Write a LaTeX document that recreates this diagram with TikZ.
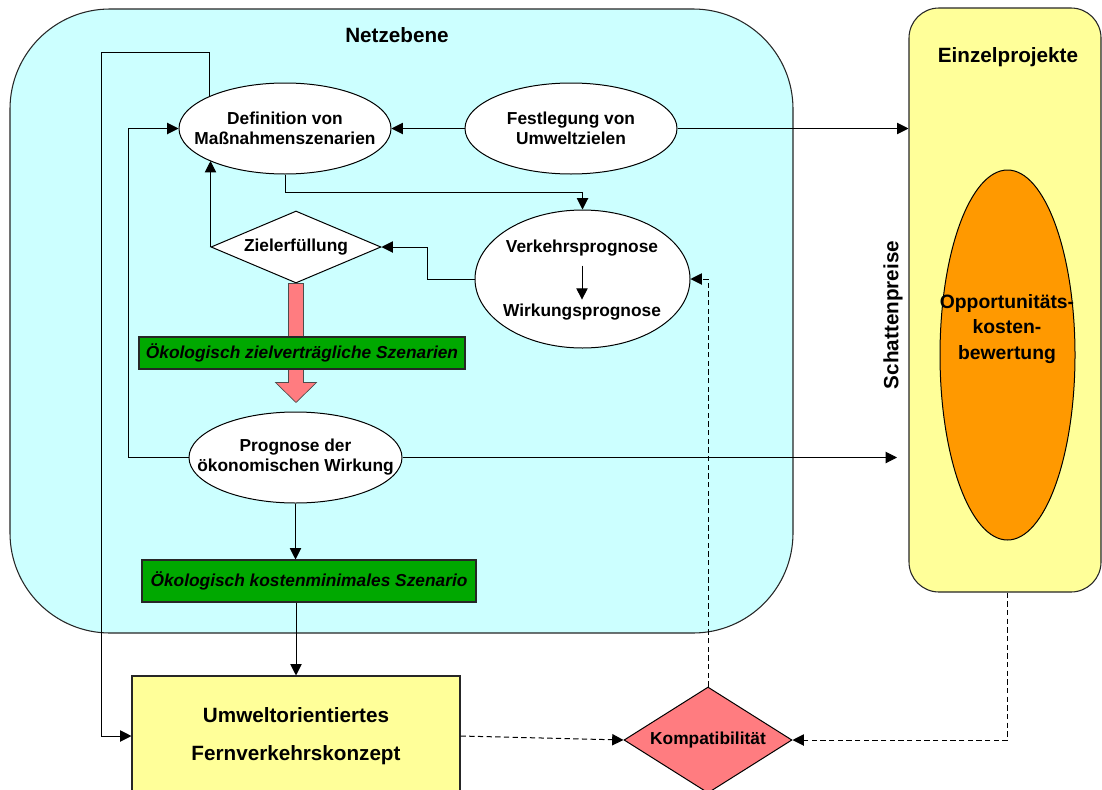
\documentclass[tikz,border=0pt]{standalone}
\usepackage{fontspec}
\setmainfont{Liberation Sans}
\usepackage{tikz}
\usetikzlibrary{
	arrows.meta,
	shapes.geometric,
	calc,
}
\definecolor{netzblau}{RGB}{204,255,255}
\definecolor{projektgelb}{RGB}{255,255,153}
\definecolor{kostenorange}{RGB}{255,153,0}
\definecolor{zielrot}{RGB}{255,124,128}
\definecolor{szenariogruen}{RGB}{0,168,0}
\tikzset{ebene/.style={
		% The shape:
		rectangle,rounded corners=75pt,
		% The border and the filling:
		draw=black!85,line width=0.8pt,fill=netzblau,
		inner sep=0pt,
}}
\tikzset{prozess/.style={
		% The shape, the text goes in a node of its own:
		ellipse,inner sep=0pt,
		% The size:
		minimum width=159pt,minimum height=68.25pt,
		% The border and the filling:
		draw=black,line width=0.75pt,fill=white,
}}
\tikzset{entscheidung/.style={
		diamond,inner sep=0pt,
		draw=black,line width=0.75pt,fill=white,
}}
\tikzset{ergebnis/.style={
		% green boxes with italic text
		rectangle,inner sep=0pt,
		draw=black!85,line width=0.8pt,fill=szenariogruen,
		font=\fontsize{13}{15}\selectfont\bfseries\itshape,
}}
\tikzset{beschriftung/.style={
		font=\fontsize{13}{15}\selectfont\bfseries,
		align=center,inner sep=0pt,
}}
\tikzset{titel/.style={
		font=\fontsize{15.5}{19}\selectfont\bfseries,
		align=center,inner sep=0pt,
}}
\tikzset{fluss/.style={
		-{Triangle[length=8.5pt,width=8.5pt]},
		line width=0.75pt,black,
}}
\tikzset{kopplung/.style={
		fluss,dash pattern=on 4pt off 2.5pt,
}}

\begin{document}
\begin{tikzpicture}[x=0.75pt,y=-0.75pt]
	\useasboundingbox (0,0) rectangle (1102,789);
	\clip (0,0) rectangle (1102,789);
	% the two frames
	\node[ebene,minimum width=587.25pt,minimum height=468pt] (netz) at (401.5,321) {};
	\node[titel] at (397,35) {Netzebene};
	\node[ebene,rounded corners=22.5pt,fill=projektgelb,minimum width=144pt,minimum height=438pt] (einzel) at (1005,300) {};
	\node[titel] at (1008,57) {Einzelprojekte};
	\node[titel,rotate=90] (schatten) at (893,315) {Schattenpreise};
	\node[prozess,fill=kostenorange,minimum width=101.25pt,minimum height=277.5pt] (opport) at (1007.5,355) {};
	\node[titel,font=\fontsize{14.5}{19}\selectfont\bfseries] at (1007,329) {Opportunitäts-\\kosten-\\bewertung};
	% inside the Netzebene
	\node[prozess] (def) at (285,128.5) {};
	\node[beschriftung] at (def) {Definition von\\Maßnahmenszenarien};
	\node[prozess] (fest) at (571,128.5) {};
	\node[beschriftung] at (fest) {Festlegung von\\Umweltzielen};
	\node[prozess,minimum width=161.25pt,minimum height=103.5pt] (verk) at (582.5,279) {};
	\node[beschriftung] (vp) at (582,248) {Verkehrsprognose};
	\node[beschriftung] (wp) at (582,312) {Wirkungsprognose};
	\node[entscheidung,minimum width=127.5pt,minimum height=54pt] (ziel) at (296,247) {};
	\node[beschriftung] at (ziel) {Zielerfüllung};
	% fat red arrow, goes under the green box
	\draw[draw=black!70,line width=0.5pt,fill=zielrot] (ziel.south) ++(-7.5,0) -- ++(0,99) -- ++(-13,0) -- ++(20.5,20) -- ++(20.5,-20) -- ++(-13,0) -- ++(0,-99) -- cycle;
	\node[ergebnis,minimum width=244.5pt,minimum height=24pt] (oeko1) at (302,353) {Ökologisch zielverträgliche Szenarien};
	\node[prozess,minimum width=159.75pt] (prog) at (295.5,457.5) {};
	\node[beschriftung] at (prog) {Prognose der\\ökonomischen Wirkung};
	\node[ergebnis,minimum width=250.5pt,minimum height=31.5pt] (oeko2) at (309,581) {Ökologisch kostenminimales Szenario};
	% below
	\node[rectangle,draw=black!85,line width=0.8pt,fill=projektgelb,minimum width=246pt,minimum height=90pt,
		titel,font=\fontsize{15.5}{28}\selectfont\bfseries] (konzept) at (296,736) {Umweltorientiertes\\Fernverkehrskonzept};
	\node[entscheidung,fill=zielrot,minimum width=126pt,minimum height=79.5pt] (kompat) at (708,740) {};
	\node[beschriftung] at (kompat) {Kompatibilität};
	% connectors
	\coordinate (linksoben) at (101,52);
	\coordinate (schattenende) at (897,455);
	\draw[fluss] (fest.west) -- (def.east);
	\draw[fluss] (fest.east) -- (fest.east -| einzel.west);
	\draw[fluss] (def.south) -- ++(0,18) -| (verk.north);
	\draw[fluss] (verk.west) -- ++(-47,0) |- (ziel.east);
	\draw[fluss] (ziel.west) -- (ziel.west |- def.south west);
	\draw[fluss,shorten <=7pt,shorten >=3pt] (vp.south) -- (wp.north);
	\draw[fluss] (def.north west) |- (linksoben) |- (konzept.west);
	\draw[fluss] (prog.west) -- ++(-60,0) |- (def.west);
	\draw[fluss] (prog.east) -- (prog.east -| schattenende);
	\draw[fluss] (prog.south) -- (prog.south |- oeko2.north);
	\draw[fluss] (konzept.north |- oeko2.south) -- (konzept.north);
	\draw[kopplung] (konzept.east) -- (kompat.west);
	\draw[kopplung] (kompat.north) |- (verk.east);
	\draw[kopplung] (opport.center |- einzel.south) |- (kompat.east);
\end{tikzpicture}
\end{document}
